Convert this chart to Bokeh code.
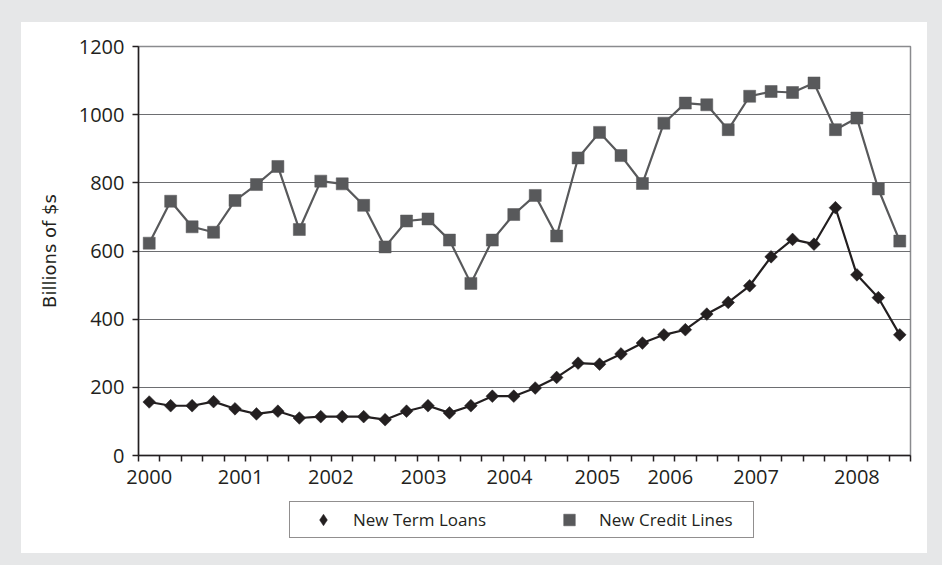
import math
from bokeh.plotting import figure
from bokeh.models import Range1d, FixedTicker, Legend, LegendItem, Spacer
from bokeh.layouts import column, row
from bokeh.embed import file_html
from bokeh.resources import INLINE

# ---- data (quarterly, billions of $) ----
term_loans = [157, 146, 146, 158, 137, 122, 130, 110, 114, 114, 114, 105,
              130, 146, 125, 146, 174, 174, 198, 229, 271, 268, 298, 330,
              354, 369, 415, 449, 498, 583, 634, 620, 727, 530, 463, 354]
credit_lines = [623, 746, 671, 655, 748, 795, 848, 663, 805, 797, 734, 612,
                688, 694, 632, 505, 632, 707, 763, 644, 873, 948, 880, 798,
                975, 1034, 1029, 956, 1054, 1068, 1065, 1093, 956, 990, 782, 629]
year_labels = ["2000", "2001", "2002", "2003", "2004", "2005", "2006", "2007", "2008"]
year_label_pos = [0, 4.26, 8.47, 12.8, 16.8, 20.9, 24.3, 28.3, 33.0]
y_ticks = [0, 200, 400, 600, 800, 1000, 1200]
series_names = ["New Term Loans", "New Credit Lines"]

quarters = list(range(len(term_loans)))
n = len(quarters)

INK = "#231f20"
GREY = "#58595b"
FONT = "Open Sans"

p = figure(width=906, height=478, output_backend="svg", toolbar_location=None,
           x_range=Range1d(-0.5, n - 0.5), y_range=Range1d(0, 1200),
           min_border_left=117, min_border_right=17, min_border_top=24,
           min_border_bottom=45, background_fill_color="white",
           border_fill_color="white")

p.outline_line_color = "#8a8b8e"
p.outline_line_width = 1.5

# grid
p.xgrid.visible = False
p.ygrid.ticker = FixedTicker(ticks=y_ticks)
p.ygrid.grid_line_color = "#6d6e71"
p.ygrid.grid_line_width = 1

# y axis
p.yaxis.ticker = FixedTicker(ticks=y_ticks)
p.yaxis.axis_line_color = INK
p.yaxis.axis_line_width = 1.5
p.yaxis.major_tick_line_color = INK
p.yaxis.major_tick_line_width = 1.5
p.yaxis.major_tick_out = 6
p.yaxis.major_tick_in = 0
p.yaxis.minor_tick_line_color = None
p.yaxis.major_label_text_font = FONT
p.yaxis.major_label_text_font_size = "20px"
p.yaxis.major_label_text_color = INK
p.yaxis.major_label_standoff = 8
p.yaxis.axis_label = "Billions of $s"
p.yaxis.axis_label_text_font = "DejaVu Sans"
p.yaxis.axis_label_text_font_size = "18px"
p.yaxis.axis_label_text_font_style = "normal"
p.yaxis.axis_label_text_color = INK
p.yaxis.axis_label_standoff = 16

# x axis
boundaries = [i - 0.5 for i in range(n + 1)]
p.xaxis.ticker = FixedTicker(ticks=year_label_pos, minor_ticks=boundaries)
p.xaxis.major_label_overrides = {pos: lab for pos, lab in zip(year_label_pos, year_labels)}
p.xaxis.axis_line_color = INK
p.xaxis.axis_line_width = 1.5
p.xaxis.major_tick_line_color = None
p.xaxis.major_tick_out = 0
p.xaxis.major_tick_in = 0
p.xaxis.minor_tick_line_color = INK
p.xaxis.minor_tick_line_width = 1.5
p.xaxis.minor_tick_out = 6
p.xaxis.minor_tick_in = 0
p.xaxis.major_label_text_font = FONT
p.xaxis.major_label_text_font_size = "20px"
p.xaxis.major_label_text_color = INK
p.xaxis.major_label_standoff = 8

# series
p.line(quarters, credit_lines, line_color=GREY, line_width=2.2)
p.scatter(quarters, credit_lines, marker="square", size=12,
          fill_color=GREY, line_color=GREY, line_width=0.5)
p.line(quarters, term_loans, line_color=INK, line_width=2.2)
p.scatter(quarters, term_loans, marker="square", size=9, angle=math.pi / 4,
          fill_color=INK, line_color=INK, line_width=0.5)

# ---- legend strip (separate small figure so the box is not clipped) ----
# the key renderers carry the real series, but this strip's y range lies
# outside the data, so only their legend swatches are seen
lg = figure(width=906, height=53, output_backend="svg", toolbar_location=None,
            x_axis_type=None, y_axis_type=None, x_range=Range1d(-0.5, n - 0.5),
            y_range=Range1d(-2, -1), min_border=0, outline_line_color=None,
            background_fill_color="white", border_fill_color="white")
tl_key = lg.scatter(quarters, term_loans, marker="diamond", size=12, fill_color=INK,
                    line_color=INK, line_width=0.5)
cl_key = lg.scatter(quarters, credit_lines, marker="square", size=12, fill_color=GREY,
                    line_color=GREY, line_width=0.5)

legend = Legend(items=[LegendItem(label=series_names[0], renderers=[tl_key]),
                       LegendItem(label=series_names[1], renderers=[cl_key])],
                orientation="horizontal", location=(151, 15),
                glyph_width=60, glyph_height=29, label_standoff=0,
                label_width=151, spacing=35, padding=3, margin=0,
                border_line_color=INK, border_line_width=1.5,
                background_fill_color="white", background_fill_alpha=1.0,
                label_text_font=FONT, label_text_font_size="17px",
                label_text_color=INK)
lg.add_layout(legend)

panel = column(p, lg, styles={"background-color": "white"})
layout = column(Spacer(height=22), row(Spacer(width=21), panel))

html = file_html(layout, INLINE, title="New Term Loans and Credit Lines")
html = html.replace("</head>", "<style>html, body { background-color: #e6e7e8; }</style></head>", 1)
open("out.html", "w").write(html)
